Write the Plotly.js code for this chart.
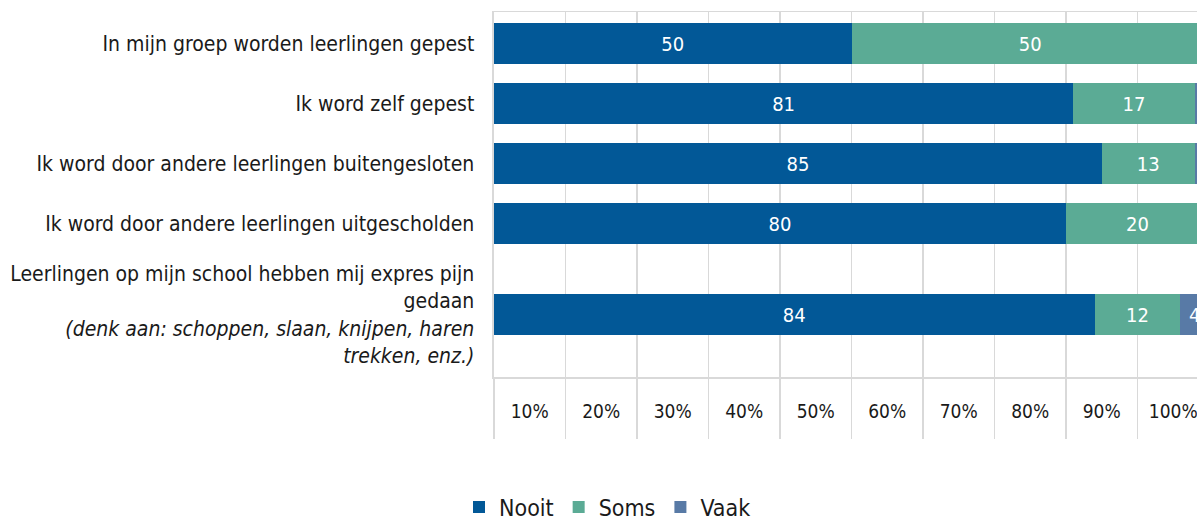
<!DOCTYPE html>
<html>
<head>
<meta charset="utf-8">
<script src="https://cdn.plot.ly/plotly-3.0.1.min.js"></script>
<style>
  html, body { margin: 0; padding: 0; overflow: hidden; background: #fff; }
  #chart { width: 1215px; height: 519px; }
</style>
</head>
<body>
<div id="chart"></div>
<script>
// ---- data ----
const categories = [
  "In mijn groep worden leerlingen gepest",
  "Ik word zelf gepest",
  "Ik word door andere leerlingen buitengesloten",
  "Ik word door andere leerlingen uitgescholden",
  "Leerlingen op mijn school hebben mij expres pijn<br>gedaan<br><i>(denk aan: schoppen, slaan, knijpen, haren<br>trekken, enz.)</i>"
];
const nooit = [50, 81, 85, 80, 84];
const soms  = [50, 17, 13, 20, 12];
const vaak  = [0, 2, 2, 0, 4];
const seriesNames = ["Nooit", "Soms", "Vaak"];
const xTickLabels = ["10%", "20%", "30%", "40%", "50%", "60%", "70%", "80%", "90%", "100%"];

// ---- layout helpers (positions / styles) ----
const rowPos = [0, 1, 2, 3, 4.52];
const colors = ["#025897", "#5BAB95", "#587AA6"];
const FONT = "'DejaVu Sans Condensed', 'DejaVu Sans', sans-serif";
const gridColor = "#D9D9D9";

const labelText = arr => arr.map(v => v > 0 ? String(v) : "");

const series = [nooit, soms, vaak];
const traces = series.map((vals, i) => ({
  type: "bar",
  orientation: "h",
  name: seriesNames[i],
  x: vals,
  y: rowPos,
  width: 0.683,
  marker: { color: colors[i], line: { width: 0 } },
  text: labelText(vals),
  textposition: "inside",
  insidetextanchor: "middle",
  constraintext: "none",
  textfont: { family: FONT, size: 20, color: "#ffffff" },
  hoverinfo: "skip"
}));

const majorVals = xTickLabels.map((_, i) => i * 10 + 5);
const gridVals = [0].concat(xTickLabels.map((_, i) => (i + 1) * 10));

const layout = {
  width: 1215,
  height: 519,
  margin: { l: 494, r: 6, t: 12, b: 142 },
  paper_bgcolor: "#ffffff",
  plot_bgcolor: "#ffffff",
  barmode: "stack",
  bargap: 0,
  showlegend: true,
  legend: {
    orientation: "h",
    xref: "container", yref: "container",
    x: 0.5, xanchor: "center",
    y: 0.023, yanchor: "middle",
    font: { family: FONT, size: 23, color: "#1a1a1a" },
    traceorder: "normal"
  },
  xaxis: {
    range: [0, 100],
    tickmode: "array",
    tickvals: majorVals,
    ticktext: xTickLabels,
    ticks: "",
    showgrid: false,
    zeroline: false,
    showline: true,
    mirror: true,
    linecolor: gridColor,
    linewidth: 1.5,
    tickfont: { family: FONT, size: 19, color: "#1a1a1a" },
    ticklabelstandoff: 17,
    minor: {
      tickmode: "array",
      tickvals: gridVals,
      ticks: "outside",
      ticklen: 60,
      tickcolor: gridColor,
      tickwidth: 1.5,
      showgrid: true,
      gridcolor: gridColor,
      gridwidth: 1.5
    },
    fixedrange: true
  },
  yaxis: {
    range: [5.558, -0.525],
    tickmode: "array",
    tickvals: rowPos,
    ticktext: categories,
    ticks: "",
    showgrid: false,
    zeroline: false,
    showline: true,
    linecolor: gridColor,
    linewidth: 2.5,
    tickfont: { family: FONT, size: 21, color: "#1a1a1a" },
    ticklabelstandoff: 13,
    fixedrange: true
  }
};

Plotly.newPlot("chart", traces, layout, { displayModeBar: false, staticPlot: true });
</script>
</body>
</html>
